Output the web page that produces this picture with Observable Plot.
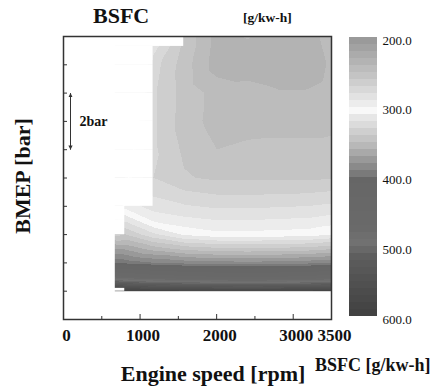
<!DOCTYPE html>
<html><head><meta charset="utf-8">
<script src="https://cdn.jsdelivr.net/npm/d3@7"></script>
<script src="https://cdn.jsdelivr.net/npm/@observablehq/plot@0.6"></script>
<style>
body{margin:0;background:#fff;}
#wrap{position:relative;width:437px;height:390px;overflow:hidden;font-family:"Liberation Serif","Times New Roman",serif;color:#111;}
.t{position:absolute;white-space:nowrap;line-height:1;font-weight:bold;}
#wrap svg{position:absolute;}
</style></head><body><div id="wrap"></div>
<script>
// Engine speed grid (rpm) and BMEP grid (bar)
const rpm  = [670, 800, 1170, 1570, 2000, 2400, 2800, 3200, 3500];
const bmep = [1, 1.1, 1.5, 2, 2.5, 3, 3.5, 4, 5, 6, 7, 8, 9, 9.65, 10];
// BSFC [g/kW-h], one row per BMEP value, one column per rpm value (null = not measured)
const bsfc = [
  [null, 590, 588, 586, 585, 584, 585, 586, 588],
  [565,  560, 552, 548, 545, 543, 545, 548, 552],
  [475,  470, 460, 455, 450, 448, 450, 455, 460],
  [398,  396, 390, 386, 384, 383, 384, 386, 388],
  [370,  368, 355, 346, 342, 341, 342, 344, 348],
  [335,  340, 322, 308, 303, 303, 304, 305, 309],
  [null, 318, 298, 293, 290, 290, 291, 292, 295],
  [null, 296, 285, 281, 278, 278, 279, 280, 282],
  [null, null, 270, 261, 258, 258, 258, 258, 259],
  [null, null, 272, 258, 250, 253, 254, 254, 254],
  [null, null, 272, 255, 246, 244, 244, 244, 246],
  [null, null, 272, 256, 246, 243, 241, 241, 244],
  [null, null, 275, 255, 235, 236, 232, 234, 242],
  [null, null, 285, 258, 236, 238, 232, 235, 244],
  [null, null, null, 258, 236, 241, 233, 236, 244]
];
const xTickLabels = [0, 1000, 2000, 3000, 3500];
const xMajorTicks = [1000, 2000, 3000];
const xMinorTicks = [500, 1500, 2500];
const yTicks = [1, 2, 3, 4, 5, 6, 7, 8, 9];
const legendTicks = [200, 300, 400, 500, 600];
const legendStep = 10;
const arrowSpan = [6, 8];
const arrowLabel = "2bar";

// grey colour map, stepped every 10 g/kW-h
const grey = d3.scaleLinear()
  .domain([200, 250, 290, 300, 310, 350, 390, 400, 470, 490, 510, 600])
  .range(["#9a9a9a","#c4c4c4","#ececec","#f8f8f8","#e6e6e6","#b8b8b8","#7a7a7a","#666666","#6a6a6a","#717171","#5e5e5e","#3e3e3e"]);
const lo = legendTicks[0], hi = legendTicks[legendTicks.length - 1];
const bandStarts = d3.range(lo, hi, legendStep);
const colorScale = {type: "threshold", domain: bandStarts.slice(1), range: bandStarts.map(grey)};

// table of measured points
const points = [];
bmep.forEach((b, i) => rpm.forEach((r, j) => {
  const v = bsfc[i][j];
  if (v != null) points.push({rpm: r, bmep: b, bsfc: v});
}));
// unmeasured zones between consecutive BMEP rows
const firstValid = bsfc.map(row => rpm[row.findIndex(v => v != null)]);
const masks = [];
for (let i = 0; i < bmep.length - 1; i++) {
  const start = Math.max(firstValid[i], firstValid[i + 1]);
  if (start > rpm[0]) masks.push({lo: bmep[i], hi: bmep[i + 1], start});
}

const W = 437, H = 390, mL = 63, mR = 106, mT = 36, mB = 71;
const fw = W - mL - mR, fh = H - mT - mB;
const ink = "#333";

// filled triangular arrow head
function solidArrow(color) {
  const ns = "http://www.w3.org/2000/svg";
  const m = document.createElementNS(ns, "marker");
  m.setAttribute("viewBox", "-6 -4 7 8");
  m.setAttribute("markerWidth", "5");
  m.setAttribute("markerHeight", "6");
  m.setAttribute("orient", "auto-start-reverse");
  m.setAttribute("markerUnits", "userSpaceOnUse");
  const p = document.createElementNS(ns, "path");
  p.setAttribute("d", "M-6,-3L0,0L-6,3Z");
  p.setAttribute("fill", color);
  p.setAttribute("stroke", "none");
  m.appendChild(p);
  return m;
}

const main = Plot.plot({
  width: W, height: H,
  marginLeft: mL, marginRight: mR, marginTop: mT, marginBottom: mB,
  style: {fontFamily: '"Liberation Serif", "Times New Roman", serif', background: "transparent", color: "#111"},
  x: {domain: [0, 3500], axis: null},
  y: {domain: [0, 10], axis: null},
  color: colorScale,
  marks: [
    Plot.raster(points, {
      x: "rpm", y: "bmep", fill: "bsfc", interpolate: "barycentric",
      x1: d3.min(rpm), x2: d3.max(rpm), y1: d3.min(bmep), y2: d3.max(bmep),
      pixelSize: 1, imageRendering: "pixelated"
    }),
    Plot.rect(masks, {x1: 0, x2: "start", y1: "lo", y2: "hi", fill: "white"}),
    Plot.frame({stroke: ink, strokeWidth: 1.5}),
    Plot.tickX(xMajorTicks, {x: d => d, insetTop: fh - 5, stroke: ink}),
    Plot.tickX(xMinorTicks, {x: d => d, insetTop: fh - 3, stroke: ink}),
    Plot.tickY(yTicks, {y: d => d, insetRight: fw - 4, stroke: ink}),
    Plot.axisX(xTickLabels, {tickSize: 0, tickPadding: 9, fontSize: 17, fontWeight: "bold", dx: 3, tickFormat: d => String(d), label: null}),
    Plot.link([arrowSpan], {x1: 0, x2: 0, y1: d => d[0], y2: d => d[1], dx: 7, stroke: ink, strokeWidth: 1, markerStart: solidArrow, markerEnd: solidArrow}),
    Plot.text([arrowLabel], {x: 0, y: (arrowSpan[0] + arrowSpan[1]) / 2, dx: 16, text: d => d, textAnchor: "start", fontSize: 14, fontWeight: "bold"})
  ]
});
main.style.left = "0px"; main.style.top = "0px";

const bar = Plot.plot({
  width: 97, height: 300,
  marginLeft: 9, marginRight: 60, marginTop: 10, marginBottom: 11,
  style: {fontFamily: '"Liberation Serif", "Times New Roman", serif', background: "transparent", color: "#111"},
  x: {domain: [0, 1], axis: null},
  y: {domain: [lo, hi], reverse: true, axis: null},
  color: colorScale,
  marks: [
    Plot.rect(bandStarts, {x1: 0, x2: 1, y1: d => d, y2: d => d + legendStep, fill: d => d, shapeRendering: "crispEdges"}),
    Plot.axisY(legendTicks, {anchor: "right", tickSize: 0, tickPadding: 5, dy: 3, fontSize: 13, tickFormat: d => d.toFixed(1), label: null})
  ]
});
bar.style.left = "340px"; bar.style.top = "27px";

const wrap = document.getElementById("wrap");
wrap.appendChild(main);
wrap.appendChild(bar);

function label(text, css) {
  const d = document.createElement("div");
  d.className = "t";
  d.textContent = text;
  Object.assign(d.style, css);
  wrap.appendChild(d);
}
label("BSFC", {left: "93px", top: "5px", fontSize: "22px"});
label("[g/kw-h]", {left: "243px", top: "11px", fontSize: "13.5px"});
label("BMEP [bar]", {left: "23px", top: "176px", fontSize: "22px", transform: "translate(-50%,-50%) rotate(-90deg)"});
label("Engine speed [rpm]", {left: "213px", top: "363px", fontSize: "22px", transform: "translateX(-50%)"});
label("BSFC [g/kw-h]", {left: "315px", top: "356px", fontSize: "18px"});
</script>
</body></html>
